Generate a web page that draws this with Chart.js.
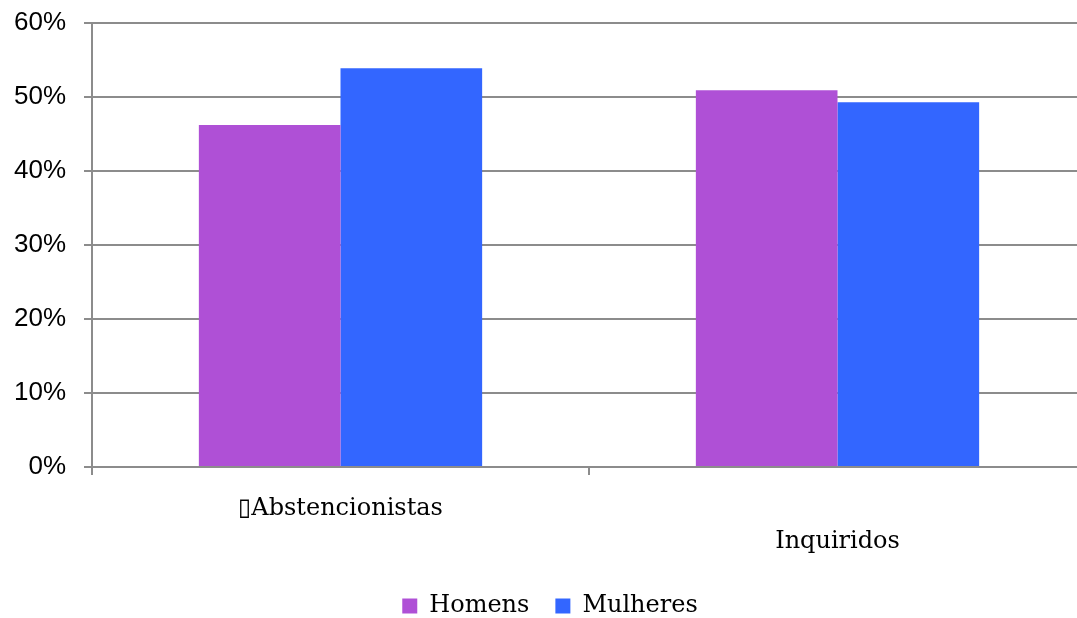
<!DOCTYPE html>
<html>
<head>
<meta charset="utf-8">
<script src="https://cdn.jsdelivr.net/npm/chart.js@4"></script>
<style>
  html, body { margin: 0; padding: 0; background: #fff; overflow: hidden; }
  #wrap { width: 1092px; height: 618px; }
</style>
</head>
<body>
<div id="wrap"><canvas id="barChart" width="1092" height="618"></canvas></div>
<script>
        // Data
        const categories = [['\u25AFAbstencionistas'], ['', 'Inquiridos']];
        const homens = [46.2, 50.9];
        const mulheres = [53.9, 49.3];
        const yTicks = [0, 10, 20, 30, 40, 50, 60];

        const gridGray = '#8c8c8c';
        const slabFont = "'DejaVu Serif', serif";
        const EXTRA_X_SPACE = -7;
        const Y_AXIS_WIDTH = 78;

        const ctx = document.getElementById('barChart').getContext('2d');
        const chart = new Chart(ctx, {
            type: 'bar',
            data: {
                labels: categories,
                datasets: [
                    {
                        label: 'Homens',
                        data: homens,
                        backgroundColor: '#af50d6',
                        borderWidth: 0,
                        categoryPercentage: 0.57,
                        barPercentage: 1.0
                    },
                    {
                        label: 'Mulheres',
                        data: mulheres,
                        backgroundColor: '#3366ff',
                        borderWidth: 0,
                        categoryPercentage: 0.57,
                        barPercentage: 1.0
                    }
                ]
            },
            options: {
                responsive: false,
                animation: false,
                layout: {
                    padding: { top: 23, right: 6, left: 14, bottom: -10 }
                },
                scales: {
                    x: {
                        grid: {
                            drawOnChartArea: false,
                            drawTicks: true,
                            tickLength: 8,
                            color: gridGray,
                            lineWidth: 2,
                            offset: true
                        },
                        border: { color: gridGray, width: 2 },
                        ticks: {
                            color: '#000',
                            maxRotation: 0,
                            padding: 17,
                            font: { family: slabFont, size: 24, lineHeight: 1.375 }
                        },
                        afterFit: axis => {
                            axis.height += EXTRA_X_SPACE;
                            axis.paddingLeft = 0;
                            axis.paddingRight = 0;
                        }
                    },
                    y: {
                        min: 0,
                        max: 60,
                        afterBuildTicks: axis => {
                            axis.ticks = yTicks.map(v => ({ value: v }));
                        },
                        afterFit: axis => {
                            axis.width = Y_AXIS_WIDTH;
                            axis.paddingTop = 0;
                            axis.paddingBottom = 0;
                        },
                        grid: {
                            color: gridGray,
                            lineWidth: 2,
                            tickLength: 8
                        },
                        border: { color: gridGray, width: 2 },
                        ticks: {
                            color: '#000',
                            padding: 18,
                            font: { family: "'Liberation Sans', Arial, sans-serif", size: 26 },
                            callback: v => v + '%'
                        }
                    }
                },
                plugins: {
                    legend: {
                        position: 'bottom',
                        labels: {
                            color: '#000',
                            boxWidth: 15,
                            boxHeight: 15,
                            padding: 26,
                            font: { family: slabFont, size: 24 }
                        }
                    },
                    tooltip: { enabled: false }
                }
            }
        });
</script>
</body>
</html>
